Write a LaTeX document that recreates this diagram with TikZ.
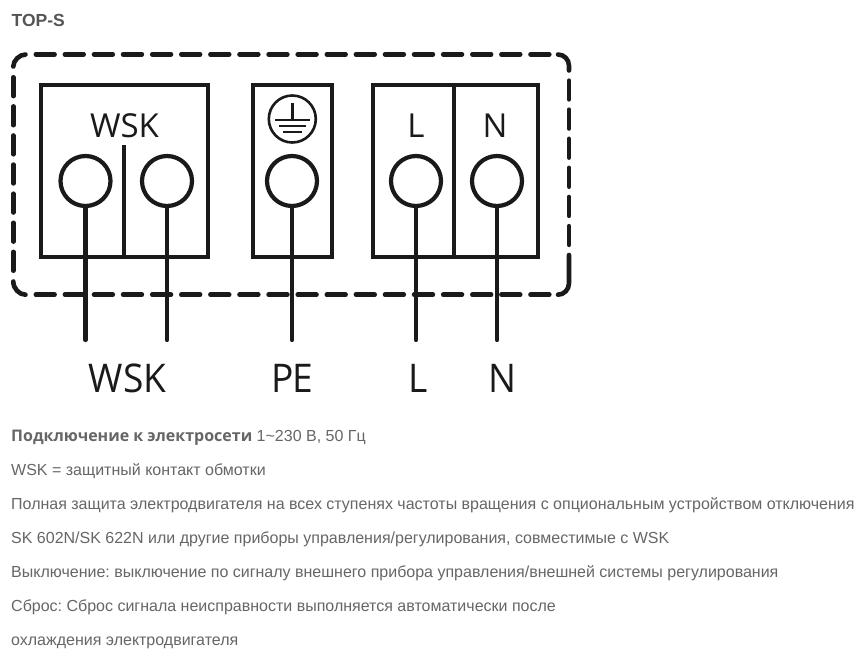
\documentclass[tikz,border=0pt]{standalone}
\usepackage{fontspec}
\setmainfont{Liberation Sans}
\newfontfamily\opensans{Open Sans}
\newfontfamily\narrowsans[FakeStretch=0.94]{Open Sans}
\definecolor{ink}{HTML}{1A1A1A}
\definecolor{txt}{HTML}{666666}
\definecolor{ttl}{HTML}{555555}
\frenchspacing
\tikzset{
  panel/.style={draw=ink,line width=4pt},
  divider/.style={draw=ink,line width=3.8pt},
  terminal/.style={circle,draw=ink,line width=4.2pt,fill=white,minimum size=50pt,inner sep=0pt},
  wire/.style={draw=ink,line width=4.2pt,line cap=round},
  housingcorner/.style={draw=ink,line width=4.6pt,line cap=round},
  housingdash/.style={housingcorner,dash pattern=on 18.8pt off 10.3pt},
  biglabel/.style={anchor=base,text=ink,inner sep=0pt,font=\narrowsans\fontsize{39.5}{39.5}\selectfont},
  inlabel/.style={anchor=base,text=ink,inner sep=0pt,font=\opensans\fontsize{33}{33}\selectfont},
  bodytext/.style={anchor=base west,text=txt,inner sep=0pt,font=\fontsize{16}{16}\selectfont},
  earthline/.style={draw=ink,line width=2.5pt}
}
\begin{document}
\begin{tikzpicture}[x=1pt,y=-1pt]
\useasboundingbox (0,0) rectangle (858,658);
\fill[white] (0,0) rectangle (858,658);
\node[anchor=base west,text=ttl,inner sep=0pt,font=\fontsize{17.5}{17.5}\selectfont\bfseries] (title) at (11.5,27) {TOP-S};
% housing: sides
\draw[housingdash] (35.8,54.3) -- (549.4,54.3);
\draw[housingdash] (35.8,294.7) -- (549.4,294.7);
\draw[housingdash] (13.3,77.3) -- (13.3,270.8);
\draw[housingdash] (569,80.6) -- (569,245);
% housing: corners
\draw[housingcorner] (13.3,66.5) .. controls (13.3,60.5) and (19.5,54.5) .. (25.5,54.5);
\draw[housingcorner] (13.3,281.5) .. controls (13.3,288.8) and (19.4,294.7) .. (25.5,294.7);
\draw[housingcorner] (558,54.5) .. controls (563.9,54.5) and (569,59.4) .. (569,65.8) -- (569,70.5);
\draw[housingcorner] (569,255) -- (569,283.2) .. controls (569,289.6) and (563.9,294.7) .. (558,294.7);
% boxes
\draw[panel] (41,85) rectangle (208,257);
\draw[panel] (253,85) rectangle (332,257);
\draw[panel] (373,85) rectangle (538,257);
\coordinate (d1t) at (124,145); \coordinate (d1b) at (124,257);
\coordinate (d2t) at (454,85);  \coordinate (d2b) at (454,257);
\draw[divider] (d1t) -- (d1b);
\draw[divider] (d2t) -- (d2b);
% wire ends
\coordinate (w1) at (85.5,340);
\coordinate (w2) at (167,340);
\coordinate (w3) at (292,340);
\coordinate (w4) at (416,340);
\coordinate (w5) at (497,340);
% terminals
\node[terminal] (t1) at (85.5,181) {};
\node[terminal] (t2) at (167,181) {};
\node[terminal] (t3) at (292,181) {};
\node[terminal] (t4) at (416,181) {};
\node[terminal] (t5) at (497,181) {};
\draw[wire] (t1.south) -- (w1);
\draw[wire] (t2.south) -- (w2);
\draw[wire] (t3.south) -- (w3);
\draw[wire] (t4.south) -- (w4);
\draw[wire] (t5.south) -- (w5);
% earth symbol
\node[circle,draw=ink,line width=2.6pt,minimum size=47pt,inner sep=0pt] (earth) at (292.3,119) {};
\draw[earthline] (292.3,103) -- (292.3,120);
\draw[earthline] (275,120) -- (310,120);
\draw[earthline] (279,126) -- (306,126);
\draw[earthline] (283,132) -- (302,132);
% inner labels
\node[inlabel] (iw) at (124.5,137) {WSK};
\node[inlabel] (il) at (416,137) {L};
\node[inlabel] (in) at (495,137) {N};
% lower labels
\node[biglabel] (lw) at (127.5,392.5) {WSK};
\node[biglabel] (lp) at (292.3,392.5) {P\kern-1.5pt E};
\node[biglabel] (ll) at (418,392.5) {L};
\node[biglabel] (ln) at (502,392.5) {N};
% text
\node[bodytext] (b1) at (11,441) {{\opensans\bfseries Подключение к электросети} 1\textasciitilde 230 В, 50 Гц};
\node[bodytext] (b2) at (11,475) {WSK = защитный контакт обмотки};
\node[bodytext] (b3) at (11,509) {Полная защита электродвигателя на всех ступенях частоты вращения с опциональным устройством отключения};
\node[bodytext] (b4) at (11,543) {SK 602N/SK 622N или другие приборы управления/регулирования, совместимые с WSK};
\node[bodytext] (b5) at (11,577) {Выключение: выключение по сигналу внешнего прибора управления/внешней системы регулирования};
\node[bodytext] (b6) at (11,611) {Сброс: Сброс сигнала неисправности выполняется автоматически после};
\node[bodytext] (b7) at (11,645) {охлаждения электродвигателя};
\end{tikzpicture}
\end{document}
